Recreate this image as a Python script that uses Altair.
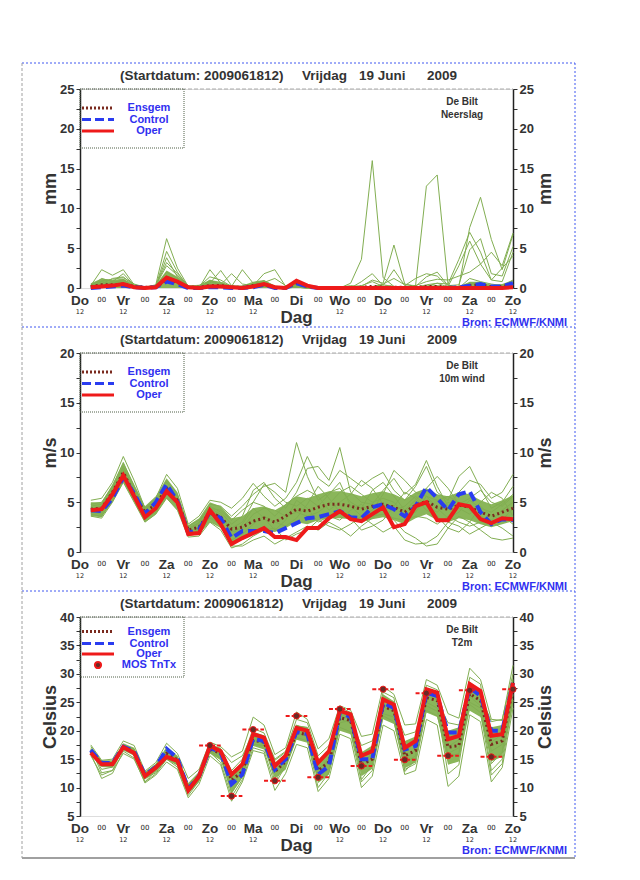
import altair as alt
import pandas as pd

FONT = "Liberation Sans"

# ---------------- data ----------------
HOURS = [6, 12, 18, 24, 30, 36, 42, 48, 54, 60,
         66, 72, 78, 84, 90, 96, 102, 108, 114, 120,
         126, 132, 138, 144, 150, 156, 162, 168, 174, 180,
         186, 192, 198, 204, 210, 216, 222, 228, 234, 240]
DAY_HOURS = [0, 24, 48, 72, 96, 120, 144, 168, 192, 216, 240]
DAY_NAMES = ["Do", "Vr", "Za", "Zo", "Ma", "Di", "Wo", "Do", "Vr", "Za", "Zo"]
NIGHT_HOURS = [12, 36, 60, 84, 108, 132, 156, 180, 204, 228]
NOON_HOURS = [0, 24, 48, 72, 96, 144, 168, 192, 216, 240]   # "12" under Di hidden by "Dag"
TITLE_PARTS = ["(Startdatum: 2009061812)", "Vrijdag", "19 Juni", "2009"]
LEGEND_NAMES = ["Ensgem", "Control", "Oper"]
STATION = "De Bilt"
SOURCE = "Bron: ECMWF/KNMI"

# Precipitation (mm)
OPER_P = [0.1, 0.2, 0.3, 0.5, 0.1, 0.0, 0.1, 1.3, 0.8, 0.1,
          0.0, 0.2, 0.2, 0.1, 0.0, 0.2, 0.5, 0.1, 0.0, 0.9,
          0.3, 0.0, 0.0, 0.0, 0.0, 0.0, 0.0, 0.0, 0.0, 0.0,
          0.0, 0.0, 0.0, 0.0, 0.0, 0.0, 0.0, 0.0, 0.0, 0.1]
CONTROL_P = [0.0, 0.1, 0.2, 0.3, 0.1, 0.0, 0.1, 0.8, 0.5, 0.0,
             0.0, 0.1, 0.1, 0.0, 0.0, 0.1, 0.4, 0.0, 0.0, 0.6,
             0.2, 0.0, 0.0, 0.0, 0.0, 0.0, 0.0, 0.0, 0.0, 0.0,
             0.0, 0.0, 0.0, 0.0, 0.1, 0.3, 0.5, 0.2, 0.2, 0.6]
ENSGEM_P = [0.2, 0.4, 0.4, 0.5, 0.2, 0.1, 0.1, 1.0, 0.7, 0.1,
            0.1, 0.3, 0.3, 0.1, 0.1, 0.3, 0.4, 0.1, 0.0, 0.6,
            0.2, 0.0, 0.0, 0.0, 0.0, 0.1, 0.2, 0.1, 0.1, 0.1,
            0.1, 0.2, 0.2, 0.1, 0.1, 0.3, 0.4, 0.2, 0.2, 0.4]
LO_P = [0.0, 0.0, 0.0, 0.0, 0.0, 0.0, 0.0, 0.0, 0.0, 0.0,
        0.0, 0.0, 0.0, 0.0, 0.0, 0.0, 0.0, 0.0, 0.0, 0.0,
        0.0, 0.0, 0.0, 0.0, 0.0, 0.0, 0.0, 0.0, 0.0, 0.0,
        0.0, 0.0, 0.0, 0.0, 0.0, 0.0, 0.0, 0.0, 0.0, 0.0]
HI_P = [0.6, 1.2, 1.0, 1.2, 0.4, 0.2, 0.4, 2.2, 1.4, 0.3,
        0.4, 1.0, 0.8, 0.3, 0.3, 0.8, 1.0, 0.3, 0.1, 0.8,
        0.4, 0.1, 0.1, 0.1, 0.1, 0.1, 0.2, 0.2, 0.2, 0.2,
        0.2, 0.3, 0.3, 0.2, 0.2, 0.8, 0.8, 0.4, 0.5, 1.0]
MEMBERS_P = [
    [0.0, 0.3, 0.6, 0.8, 0.2, 0.0, 0.1, 1.5, 1.0, 0.1,
     0.0, 0.2, 0.3, 0.0, 0.0, 0.1, 0.2, 0.0, 0.0, 0.1,
     0.0, 0.0, 0.0, 0.0, 0.6, 3.6, 16.0, 1.3, 0.2, 0.0,
     0.0, 0.1, 0.3, 0.0, 0.1, 0.6, 0.4, 0.2, 0.1, 0.3],
    [0.2, 0.8, 0.5, 1.0, 0.1, 0.0, 0.2, 2.0, 1.2, 0.0,
     0.0, 0.4, 0.2, 0.0, 0.0, 0.3, 0.6, 0.1, 0.0, 0.2,
     0.0, 0.0, 0.0, 0.0, 0.0, 0.0, 0.2, 0.4, 0.2, 0.0,
     0.3, 12.8, 14.2, 0.4, 0.0, 1.2, 0.8, 0.5, 0.3, 1.0],
    [0.1, 0.5, 1.2, 1.4, 0.3, 0.0, 0.3, 2.8, 1.6, 0.2,
     0.1, 0.8, 0.4, 0.1, 0.0, 0.4, 0.8, 0.2, 0.0, 0.3,
     0.1, 0.0, 0.0, 0.0, 0.1, 0.3, 0.8, 0.2, 0.1, 0.0,
     0.0, 0.2, 0.6, 0.1, 0.2, 7.6, 11.4, 6.1, 2.3, 6.7],
    [0.3, 2.3, 1.6, 2.3, 0.4, 0.1, 0.4, 6.2, 2.5, 0.2,
     0.0, 2.3, 0.6, 0.2, 0.0, 0.2, 0.4, 0.1, 0.0, 0.1,
     0.0, 0.0, 0.0, 0.0, 0.0, 0.1, 0.0, 0.0, 0.2, 0.0,
     0.1, 0.4, 0.6, 0.5, 3.6, 7.0, 4.5, 1.0, 2.5, 4.0],
    [0.2, 1.2, 0.8, 1.8, 0.3, 0.0, 0.2, 4.6, 2.0, 0.1,
     0.0, 1.0, 0.4, 1.8, 0.5, 0.3, 1.8, 2.3, 0.2, 0.1,
     0.0, 0.0, 0.0, 0.0, 0.0, 0.8, 1.8, 0.3, 2.3, 0.3,
     1.2, 1.8, 1.5, 0.2, 2.8, 5.9, 3.0, 1.0, 0.8, 4.5],
    [0.4, 0.9, 1.1, 1.3, 0.5, 0.1, 0.3, 3.2, 1.8, 0.3,
     0.2, 0.6, 2.2, 0.3, 0.1, 0.5, 0.9, 0.2, 0.1, 0.4,
     0.2, 0.0, 0.0, 0.0, 0.0, 0.0, 0.0, 0.5, 1.2, 0.4,
     0.3, 0.8, 1.1, 1.0, 1.5, 2.0, 3.0, 4.5, 2.8, 6.9],
    [0.0, 0.4, 0.7, 1.0, 0.2, 0.0, 0.2, 3.8, 1.4, 0.1,
     0.2, 1.4, 1.0, 0.2, 2.3, 0.6, 0.7, 1.2, 0.3, 0.5,
     0.1, 0.0, 0.0, 0.1, 0.3, 0.2, 1.0, 0.6, 5.4, 0.5,
     0.2, 1.4, 2.0, 0.3, 0.4, 4.8, 6.2, 1.8, 1.5, 5.2],
]

# 10 m wind (m/s)
OPER_W = [4.2, 4.3, 5.8, 7.7, 5.6, 3.5, 4.4, 6.1, 5.0, 1.8,
          1.9, 4.2, 2.8, 0.8, 1.4, 1.9, 2.4, 1.5, 1.5, 1.2,
          2.4, 2.4, 3.4, 4.1, 3.3, 3.1, 3.8, 4.5, 2.5, 2.8,
          4.6, 5.0, 3.2, 3.2, 4.8, 4.6, 3.3, 2.9, 3.4, 3.3]
CONTROL_W = [4.2, 4.1, 5.4, 7.5, 5.9, 3.8, 5.0, 6.8, 5.1, 1.9,
             2.3, 4.0, 3.4, 1.4, 2.1, 2.1, 2.1, 1.9, 2.4, 2.9,
             3.4, 3.5, 3.8, 4.1, 3.5, 3.4, 4.5, 4.8, 4.3, 3.6,
             4.6, 6.5, 5.4, 4.2, 5.8, 6.1, 4.0, 2.8, 3.3, 3.2]
ENSGEM_W = [4.3, 4.4, 6.0, 8.0, 5.8, 4.0, 4.8, 6.4, 5.2, 2.2,
            2.5, 4.0, 3.5, 2.3, 2.5, 3.1, 3.4, 3.0, 3.6, 4.3,
            4.1, 4.5, 4.8, 4.8, 4.6, 4.3, 4.6, 4.8, 4.5, 4.0,
            4.7, 5.1, 4.5, 4.3, 4.7, 4.5, 4.0, 3.6, 4.0, 4.4]
LO_W = [3.6, 3.5, 5.0, 7.0, 5.0, 3.0, 3.8, 5.4, 4.2, 1.6,
        1.8, 3.0, 2.4, 1.0, 1.4, 1.8, 2.2, 2.0, 2.4, 3.0,
        2.8, 3.2, 3.4, 3.4, 3.3, 3.0, 3.3, 3.5, 3.2, 2.8,
        3.4, 3.8, 3.2, 3.0, 3.4, 3.2, 2.8, 2.5, 2.8, 3.1]
HI_W = [5.0, 5.0, 6.8, 9.0, 6.8, 4.6, 5.6, 7.4, 6.0, 2.7,
        3.4, 5.0, 4.6, 3.4, 3.6, 4.4, 4.6, 4.2, 4.8, 5.6,
        5.4, 5.8, 6.1, 6.1, 5.9, 5.6, 5.9, 6.1, 5.8, 5.3,
        6.0, 6.4, 5.8, 5.6, 6.0, 5.8, 5.2, 4.8, 5.2, 5.7]
MEMBERS_W = [
    [4.6, 4.8, 6.4, 8.6, 6.2, 4.2, 5.2, 7.0, 5.6, 2.4,
     2.9, 4.8, 4.6, 3.6, 4.6, 5.8, 6.6, 6.9, 6.0, 11.0,
     7.6, 5.2, 6.0, 6.4, 5.0, 4.4, 6.2, 7.0, 5.6, 4.2,
     5.2, 6.4, 7.6, 6.4, 4.8, 5.4, 6.2, 5.0, 4.6, 5.6],
    [3.8, 3.6, 5.2, 7.2, 5.2, 3.2, 4.2, 5.8, 4.6, 1.7,
     2.0, 3.6, 2.6, 0.6, 0.6, 1.2, 1.6, 0.8, 1.4, 2.0,
     2.6, 2.2, 3.0, 2.4, 1.6, 2.6, 3.4, 4.4, 3.2, 2.0,
     1.4, 0.6, 0.8, 2.4, 3.6, 3.0, 2.2, 1.4, 1.2, 1.4],
    [4.4, 4.6, 6.2, 8.4, 6.0, 3.8, 4.6, 6.6, 5.6, 2.2,
     3.0, 4.6, 4.0, 2.8, 3.6, 6.2, 7.0, 5.4, 4.4, 6.0,
     8.4, 8.6, 7.2, 10.5, 6.0, 5.0, 4.8, 6.2, 7.4, 5.8,
     6.8, 9.2, 6.6, 4.6, 6.0, 7.2, 6.8, 5.4, 6.0, 7.8],
    [4.0, 3.8, 5.6, 7.6, 5.4, 3.4, 4.0, 6.0, 4.8, 1.8,
     2.2, 3.8, 3.0, 1.2, 1.8, 2.8, 3.6, 3.0, 2.6, 3.4,
     4.8, 6.6, 5.4, 4.0, 3.4, 2.2, 2.6, 3.2, 4.6, 6.0,
     5.4, 4.2, 3.6, 2.4, 2.0, 3.0, 4.6, 3.6, 3.2, 4.4],
    [5.2, 5.4, 7.0, 9.6, 7.2, 4.4, 5.4, 7.8, 6.4, 2.8,
     3.6, 5.2, 5.0, 4.4, 5.4, 6.9, 5.6, 4.6, 5.4, 7.0,
     9.6, 7.4, 6.6, 8.2, 7.4, 6.6, 7.4, 8.0, 6.2, 5.2,
     6.6, 8.6, 6.0, 5.2, 7.6, 8.6, 6.4, 4.4, 5.0, 6.6],
    [4.2, 4.2, 5.8, 7.8, 5.6, 3.6, 4.6, 6.2, 5.0, 2.0,
     2.6, 4.4, 3.8, 2.0, 2.4, 3.8, 4.4, 4.2, 3.6, 4.0,
     3.6, 4.0, 4.8, 6.0, 6.6, 5.8, 5.0, 5.4, 5.0, 3.8,
     4.0, 5.6, 5.2, 5.6, 5.0, 4.2, 3.6, 3.2, 4.2, 5.0],
    [3.6, 3.4, 5.0, 7.0, 5.0, 3.0, 3.8, 5.4, 4.2, 1.5,
     1.6, 3.0, 2.2, 0.4, 0.8, 1.6, 2.2, 2.4, 1.2, 1.8,
     2.2, 3.2, 2.6, 2.2, 2.8, 3.6, 2.8, 2.0, 2.6, 1.2,
     0.8, 0.9, 1.6, 3.0, 2.6, 1.8, 2.4, 3.0, 2.4, 1.6],
    [4.8, 5.0, 6.6, 9.0, 6.6, 4.4, 5.0, 7.2, 5.8, 2.6,
     3.2, 4.4, 4.2, 3.2, 4.2, 5.0, 4.6, 3.6, 4.8, 5.6,
     6.2, 5.6, 4.2, 5.0, 5.8, 7.2, 6.4, 4.8, 4.2, 4.6,
     5.6, 4.6, 4.0, 5.0, 4.4, 3.8, 5.0, 6.0, 5.4, 3.6],
    [4.4, 4.0, 5.6, 8.0, 5.8, 3.8, 4.8, 6.6, 5.4, 2.0,
     2.2, 3.4, 2.8, 1.6, 2.8, 4.4, 3.4, 2.2, 3.2, 5.2,
     4.4, 3.0, 3.6, 3.2, 4.2, 4.8, 3.6, 3.8, 3.4, 3.2,
     3.6, 3.4, 2.8, 3.6, 3.0, 2.6, 3.0, 2.8, 3.6, 2.8],
    [3.9, 4.4, 6.0, 8.2, 6.4, 4.0, 4.4, 6.4, 5.2, 2.3,
     2.8, 4.2, 3.6, 2.4, 3.0, 5.0, 6.8, 6.0, 5.0, 4.6,
     5.4, 4.6, 5.8, 7.0, 4.6, 3.6, 4.2, 5.8, 8.2, 7.2,
     6.0, 5.6, 4.4, 3.4, 4.0, 5.2, 4.4, 4.0, 4.8, 5.8],
]

# 2 m temperature (Celsius)
OPER_T = [16.1, 14.1, 14.1, 17.1, 16.1, 12.0, 13.5, 15.4, 14.7, 9.5,
          12.0, 17.3, 16.4, 12.3, 14.1, 19.4, 18.8, 13.8, 15.6, 20.5,
          20.0, 14.4, 16.4, 23.5, 22.9, 15.6, 16.4, 25.5, 24.6, 17.0,
          18.2, 27.3, 26.7, 18.5, 19.1, 28.2, 27.0, 19.1, 19.4, 28.4]
CONTROL_T = [16.6, 14.3, 14.3, 17.2, 16.4, 12.2, 13.6, 16.8, 15.2, 9.8,
             12.0, 17.0, 16.2, 10.6, 12.3, 18.6, 18.2, 13.2, 15.0, 19.8,
             19.4, 12.3, 13.8, 23.2, 22.4, 15.0, 15.0, 24.9, 24.0, 16.7,
             17.3, 26.7, 26.1, 19.7, 19.7, 27.6, 26.1, 20.0, 20.0, 28.4]
ENSGEM_T = [16.4, 14.2, 14.2, 17.0, 16.2, 12.1, 13.5, 16.0, 14.9, 9.9,
            11.9, 16.8, 16.0, 11.3, 12.8, 18.3, 18.0, 12.8, 14.6, 19.7,
            19.3, 13.0, 14.5, 22.3, 21.8, 14.0, 15.0, 24.3, 23.5, 15.6,
            16.5, 25.8, 25.3, 17.1, 17.4, 26.5, 25.3, 17.6, 18.2, 27.5]
LO_T = [15.9, 13.6, 13.5, 16.5, 15.6, 11.4, 12.8, 14.9, 13.9, 8.9,
        11.0, 16.0, 14.8, 9.0, 11.7, 17.3, 16.7, 11.6, 13.2, 18.4,
        17.9, 10.8, 12.3, 20.0, 19.4, 12.0, 13.3, 22.0, 21.2, 13.4,
        14.4, 23.2, 22.4, 14.0, 14.6, 23.5, 22.4, 14.6, 15.4, 24.5]
HI_T = [17.0, 14.8, 14.8, 17.8, 17.0, 12.8, 14.2, 17.2, 15.6, 10.8,
        12.8, 17.6, 17.0, 12.2, 14.2, 19.8, 19.2, 14.4, 16.0, 21.0,
        20.6, 14.6, 16.4, 23.8, 23.0, 16.2, 17.4, 26.4, 25.2, 18.2,
        19.0, 27.6, 26.8, 20.0, 20.6, 28.6, 27.2, 20.6, 21.0, 29.6]
MEMBERS_T = [
    [17.5, 14.8, 15.0, 18.2, 17.4, 12.9, 14.4, 17.8, 16.0, 11.6,
     13.2, 18.0, 17.2, 15.4, 16.4, 22.4, 21.0, 15.8, 17.0, 23.3,
     22.0, 16.8, 18.6, 24.4, 23.6, 19.0, 19.4, 27.8, 26.4, 21.0,
     21.2, 29.0, 28.0, 23.0, 22.2, 31.0, 29.0, 22.0, 21.8, 31.5],
    [16.0, 11.6, 12.5, 16.4, 15.2, 10.8, 12.2, 14.5, 13.2, 8.2,
     10.6, 15.6, 14.0, 7.6, 11.0, 16.5, 16.0, 9.5, 12.5, 17.6,
     17.0, 9.3, 11.6, 19.4, 18.6, 10.0, 12.0, 21.0, 20.0, 12.3,
     13.0, 22.0, 21.0, 10.2, 12.0, 22.8, 21.6, 11.0, 13.5, 24.0],
    [16.8, 12.6, 13.0, 17.2, 16.4, 11.0, 13.0, 16.0, 14.6, 9.0,
     11.4, 17.0, 15.6, 9.0, 12.0, 18.4, 18.4, 11.0, 14.4, 21.0,
     20.0, 11.4, 13.4, 21.4, 21.8, 11.4, 14.0, 24.2, 23.4, 12.8,
     15.0, 25.0, 24.0, 12.4, 14.0, 26.0, 24.4, 13.0, 15.0, 26.4],
    [16.2, 14.4, 14.0, 17.6, 16.6, 12.4, 13.8, 16.4, 15.2, 10.2,
     12.4, 17.2, 16.8, 13.0, 15.0, 20.4, 19.6, 15.0, 16.4, 22.0,
     21.4, 15.6, 17.4, 22.6, 22.0, 17.4, 18.2, 24.6, 24.0, 19.2,
     19.8, 26.2, 25.4, 21.4, 21.0, 27.4, 26.2, 21.6, 22.0, 30.0],
    [16.6, 13.2, 13.6, 16.8, 15.8, 11.6, 12.6, 15.2, 14.0, 9.4,
     11.6, 16.4, 15.2, 10.2, 12.8, 19.0, 18.0, 12.6, 15.0, 19.6,
     19.0, 13.0, 15.2, 23.0, 22.2, 14.2, 16.0, 25.6, 24.6, 15.0,
     16.6, 27.0, 26.0, 15.4, 16.0, 28.2, 26.6, 16.4, 17.6, 28.8],
    [17.2, 14.6, 14.4, 17.4, 16.8, 12.6, 14.0, 16.6, 15.4, 10.6,
     12.0, 16.6, 16.2, 11.8, 13.6, 17.6, 17.4, 13.6, 15.4, 20.8,
     20.6, 12.4, 14.8, 24.2, 23.2, 13.2, 15.6, 23.0, 22.4, 16.4,
     17.8, 24.4, 23.4, 17.2, 18.4, 25.0, 24.0, 18.0, 19.4, 27.0],
    [16.4, 13.9, 14.2, 17.0, 16.2, 12.2, 13.4, 16.2, 14.4, 9.8,
     12.6, 17.4, 16.6, 14.4, 15.6, 19.6, 19.0, 14.8, 16.2, 20.2,
     19.6, 14.0, 16.6, 22.0, 21.4, 15.2, 17.0, 26.8, 25.8, 14.2,
     15.6, 28.0, 27.2, 18.4, 19.2, 29.4, 28.2, 14.2, 16.2, 29.0],
    [15.6, 12.2, 13.0, 16.0, 15.0, 11.0, 12.4, 15.0, 13.6, 8.6,
     11.2, 16.2, 14.4, 8.4, 11.4, 17.0, 16.4, 10.6, 13.8, 18.8,
     18.2, 10.0, 12.6, 20.6, 19.8, 11.0, 13.0, 22.6, 21.6, 13.2,
     14.2, 23.6, 22.6, 16.0, 17.0, 24.6, 23.2, 12.2, 14.2, 25.4],
]
MOS_HOURS = [72, 84, 96, 108, 120, 132, 144, 156, 168, 180, 192, 204, 216, 228, 240]
MOS_T = [17.4, 8.5, 20.2, 11.2, 22.6, 11.8, 23.8, 13.8, 27.3, 14.9, 26.6, 15.6, 27.1, 15.4, 27.3]

PANELS = [
    dict(unit="mm", label="Neerslag", domain=[0, 25], ensgem=ENSGEM_P, control=CONTROL_P,
         oper=OPER_P, lo=LO_P, hi=HI_P, members=MEMBERS_P, mos=False, bottom=238),
    dict(unit="m/s", label="10m wind", domain=[0, 20], ensgem=ENSGEM_W, control=CONTROL_W,
         oper=OPER_W, lo=LO_W, hi=HI_W, members=MEMBERS_W, mos=False, bottom=238),
    dict(unit="Celsius", label="T2m", domain=[5, 40], ensgem=ENSGEM_T, control=CONTROL_T,
         oper=OPER_T, lo=LO_T, hi=HI_T, members=MEMBERS_T, mos=True, bottom=241),
]

# ---------------- styling ----------------
W, H = 433, 199
TEXT = "#333333"
GREEN_FILL = "#8ab65a"
GREEN_LINE = "#82ae52"
ENS_COLOR = "#7a2a1e"
CTRL_COLOR = "#2a3cf0"
OPER_COLOR = "#ee1a1a"
BLUE_TEXT = "#3030f0"
FRAME_BLUE = "#4058f0"
FRAME_GREY = "#a0a0a0"
TITLE_X = [40, 222, 279, 347]
XS = alt.Scale(domain=[0, 240], nice=False, zero=False)


def one():
    return alt.Data(values=[{"k": 0}])


def txt(text, x, y, size, color=TEXT, weight="bold", align="left"):
    return alt.Chart(one()).mark_text(
        text=text, font=FONT, fontSize=size, fontWeight=weight, color=color,
        align=align, baseline="middle"
    ).encode(x=alt.value(x), y=alt.value(y))


def build_panel(p):
    lo_d, hi_d = p["domain"]
    ys = alt.Scale(domain=p["domain"], nice=False, zero=False)
    yv = [lo_d + 2.5 * i for i in range(int((hi_d - lo_d) / 2.5) + 1)]
    ax = dict(values=yv, labelExpr="datum.value % 5 == 0 ? datum.label : ''",
              labelOverlap=False, labelFont=FONT, labelFontSize=13, labelFontWeight="bold",
              labelColor=TEXT, tickSize=4, tickColor=TEXT, domainColor="#222222",
              domainWidth=1.5, labelPadding=2, grid=False, title=p["unit"], titleFont=FONT,
              titleFontSize=18, titleFontWeight="bold", titleColor=TEXT, titleAngle=270,
              titleAlign="center", titleBaseline="middle", titleY=H / 2)
    left_axis = alt.Axis(orient="left", titleX=-30, **ax)
    right_axis = alt.Axis(orient="right", titleX=32, **ax)
    x_axis = alt.Axis(values=list(range(0, 241, 6)), labels=False, tickSize=3,
                      tickColor="#555555", domainColor="#222222", domainWidth=1.5,
                      title=None, grid=False)
    xq = alt.X("t:Q", scale=XS, axis=None)

    band_df = pd.DataFrame({"t": HOURS, "lo": p["lo"], "hi": p["hi"]})
    mem_df = pd.DataFrame([{"t": t, "v": v, "m": i}
                           for i, m in enumerate(p["members"]) for t, v in zip(HOURS, m)])
    lines_df = pd.DataFrame({"t": HOURS, "ensgem": p["ensgem"], "control": p["control"],
                             "oper": p["oper"]})

    layers = []
    layers.append(alt.Chart(band_df).mark_area(color=GREEN_FILL).encode(
        x=alt.X("t:Q", scale=XS, axis=x_axis),
        y=alt.Y("lo:Q", scale=ys, axis=left_axis), y2="hi:Q"))
    layers.append(alt.Chart(mem_df).mark_line(color=GREEN_LINE, strokeWidth=1).encode(
        x=xq, y=alt.Y("v:Q", scale=ys, axis=None), detail="m:N"))
    layers.append(alt.Chart(lines_df).mark_line(color=ENS_COLOR, strokeWidth=3,
                                                strokeDash=[2, 3]).encode(
        x=xq, y=alt.Y("ensgem:Q", scale=ys, axis=None)))
    layers.append(alt.Chart(lines_df).mark_line(color=CTRL_COLOR, strokeWidth=4,
                                                strokeDash=[10, 5]).encode(
        x=xq, y=alt.Y("control:Q", scale=ys, axis=None)))
    layers.append(alt.Chart(lines_df).mark_line(color=OPER_COLOR, strokeWidth=4).encode(
        x=xq, y=alt.Y("oper:Q", scale=ys, axis=None)))
    layers.append(alt.Chart(lines_df).mark_line(strokeOpacity=0).encode(
        x=xq, y=alt.Y("oper:Q", scale=ys, axis=right_axis)))

    if p["mos"]:
        mos_df = pd.DataFrame({"t": MOS_HOURS, "v": MOS_T})
        layers.append(alt.Chart(mos_df).transform_calculate(
            t0="datum.t - 6", t1="min(datum.t + 6, 241)").mark_rule(
            color=OPER_COLOR, strokeWidth=2, strokeDash=[4, 2]).encode(
            x=alt.X("t0:Q", scale=XS, axis=None), x2="t1:Q",
            y=alt.Y("v:Q", scale=ys, axis=None)))
        layers.append(alt.Chart(mos_df).mark_point(
            shape="circle", filled=True, size=38, color="#6a2a26", stroke=OPER_COLOR,
            strokeWidth=1, opacity=1).encode(
            x=xq, y=alt.Y("v:Q", scale=ys, axis=None)))

    # plot top border
    layers.append(alt.Chart(one()).mark_rule(color="#aaaaaa", strokeDash=[4, 2]).encode(
        x=alt.value(0), x2=alt.value(W), y=alt.value(0)))

    # title
    for part, px in zip(TITLE_PARTS, TITLE_X):
        layers.append(txt(part, px, -13, 13.5))

    # station
    layers.append(txt(STATION, 382, 13, 10, align="center"))
    layers.append(txt(p["label"], 382, 26, 10, align="center"))

    # legend
    if p["mos"]:
        rows = [14.5, 26.5, 37, 48]
        box_h = 60
    else:
        rows = [19, 30.5, 42]
        box_h = 59
    layers.append(alt.Chart(one()).mark_rect(
        fill="white", fillOpacity=0, stroke="#506048", strokeDash=[1, 1], strokeWidth=1
    ).encode(x=alt.value(0), x2=alt.value(104), y=alt.value(0), y2=alt.value(box_h)))
    styles = [dict(color=ENS_COLOR, strokeWidth=3, strokeDash=[2, 2]),
              dict(color=CTRL_COLOR, strokeWidth=3, strokeDash=[9, 4]),
              dict(color=OPER_COLOR, strokeWidth=3)]
    for name, ry, st in zip(LEGEND_NAMES, rows, styles):
        layers.append(alt.Chart(one()).mark_rule(**st).encode(
            x=alt.value(2), x2=alt.value(34), y=alt.value(ry)))
        layers.append(txt(name, 69, ry, 11, color=BLUE_TEXT, align="center"))
    if p["mos"]:
        layers.append(alt.Chart(one()).mark_point(
            shape="circle", filled=True, size=38, color="#6a2a26", stroke=OPER_COLOR,
            opacity=1).encode(x=alt.value(18), y=alt.value(rows[3])))
        layers.append(txt("MOS TnTx", 69, rows[3], 11, color=BLUE_TEXT, align="center"))

    # x labels
    day_df = pd.DataFrame({"t": DAY_HOURS, "name": DAY_NAMES})
    night_df = pd.DataFrame({"t": NIGHT_HOURS})
    noon_df = pd.DataFrame({"t": NOON_HOURS})
    layers.append(alt.Chart(day_df).mark_text(
        font=FONT, fontSize=13.5, fontWeight="bold", color=TEXT, baseline="middle").encode(
        x=xq, y=alt.value(H + 12.5), text="name:N"))
    layers.append(alt.Chart(night_df).mark_text(
        font="DejaVu Sans", fontSize=7, color="#222222", baseline="middle", text="00").encode(
        x=xq, y=alt.value(H + 12)))
    layers.append(alt.Chart(noon_df).mark_text(
        font="DejaVu Sans", fontSize=6.5, color="#222222", baseline="middle", text="12").encode(
        x=xq, y=alt.value(H + 24)))
    layers.append(txt("Dag", W / 2, H + 29.5, 17, align="center"))
    layers.append(txt(SOURCE, 382, H + 35, 11, color=BLUE_TEXT))

    # frame
    b = p["bottom"]
    layers.append(alt.Chart(one()).mark_rule(color=FRAME_BLUE, strokeDash=[2, 2]).encode(
        x=alt.value(-58), x2=alt.value(495), y=alt.value(-26)))
    layers.append(alt.Chart(one()).mark_rule(color=FRAME_GREY, strokeDash=[3, 2]).encode(
        x=alt.value(-58), y=alt.value(-26), y2=alt.value(b)))
    layers.append(alt.Chart(one()).mark_rule(color=FRAME_BLUE, strokeDash=[2, 2]).encode(
        x=alt.value(495), y=alt.value(-26), y2=alt.value(b)))
    if p["mos"]:
        layers.append(alt.Chart(one()).mark_rule(color=FRAME_GREY, strokeWidth=2).encode(
            x=alt.value(-58), x2=alt.value(495), y=alt.value(b)))

    return alt.layer(*layers).resolve_scale(y="independent").properties(width=W, height=H)


chart = alt.vconcat(*[build_panel(p) for p in PANELS], spacing=65, bounds="flush").properties(
    padding={"left": 12, "top": 54, "right": 5, "bottom": 5}
).configure_view(stroke=None).configure(background="white")

chart.save("out.html", embed_options={"renderer": "svg", "actions": False})
